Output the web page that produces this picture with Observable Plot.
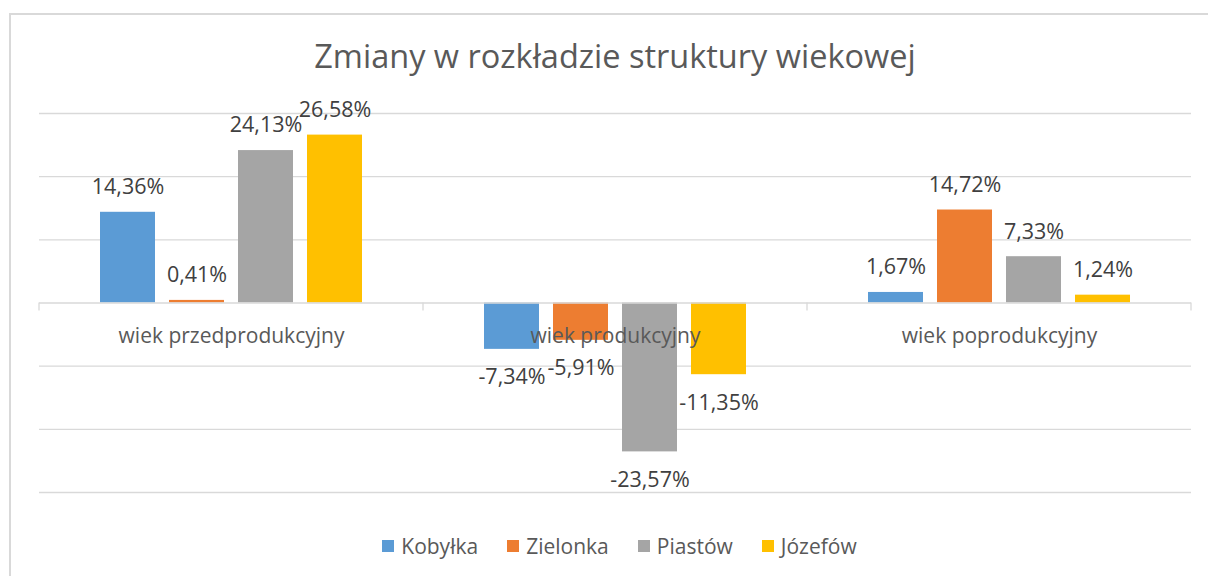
<!DOCTYPE html>
<html>
<head>
<meta charset="utf-8">
<script src="https://cdn.jsdelivr.net/npm/d3@7"></script>
<script src="https://cdn.jsdelivr.net/npm/@observablehq/plot@0.6"></script>
<style>
  html, body { margin: 0; padding: 0; background: #ffffff; }
  body { font-family: "Open Sans", sans-serif; }
  #wrap { position: relative; width: 1208px; height: 576px; overflow: hidden; background: #fff; }
  #frame { position: absolute; left: 9px; top: 13px; width: 1240px; height: 620px; border: 2px solid #d9d9d9; box-sizing: border-box; }
  #title { position: absolute; left: 0; width: 1230px; top: 34px; text-align: center; font-size: 32.5px; line-height: 44px; color: #595959; }
  #chart { position: absolute; left: 0; top: 90px; }
  #legend { position: absolute; left: 0; width: 1239px; top: 529px; display: flex; justify-content: center; }
  #legend [class$="-swatch"] { margin-right: 29px !important; color: #595959; }
  #legend [class$="-swatch"]:last-child { margin-right: 0 !important; }
  #legend [class$="-swatch"] > svg { margin-right: 7px !important; }
</style>
</head>
<body>
<div id="wrap">
  <div id="frame"></div>
  <div id="title">Zmiany w rozkładzie struktury wiekowej</div>
  <div id="chart"></div>
  <div id="legend"></div>
</div>
<script>
const categories = ["wiek przedprodukcyjny", "wiek produkcyjny", "wiek poprodukcyjny"];
const series = ["Kobyłka", "Zielonka", "Piastów", "Józefów"];
const kobylka  = [14.36, -7.34, 1.67];
const zielonka = [0.41, -5.91, 14.72];
const piastow  = [24.13, -23.57, 7.33];
const jozefow  = [26.58, -11.35, 1.24];
const colors = ["#5B9BD5", "#ED7D31", "#A5A5A5", "#FFC000"];
const yTicks = [-30, -20, -10, 0, 10, 20, 30];

const seriesValues = [kobylka, zielonka, piastow, jozefow];
const data = categories.flatMap((c, i) =>
  series.map((s, j) => ({category: c, series: s, value: seriesValues[j][i]}))
);
const fmt = v => v.toFixed(2).replace(".", ",") + "%";

const chart = Plot.plot({
  width: 1208,
  height: 440,
  marginLeft: 38,
  marginRight: 17,
  marginTop: 23,
  marginBottom: 38,
  style: {fontFamily: "Open Sans, sans-serif", background: "transparent", overflow: "visible"},
  fx: {domain: categories, padding: 0, axis: null},
  x: {domain: series, paddingInner: 0.21, paddingOuter: 0.85, axis: null},
  y: {domain: [-30, 30], axis: null},
  color: {domain: series, range: colors},
  marks: [
    Plot.ruleY(yTicks.filter(t => t !== 0), {stroke: "#d9d9d9", strokeWidth: 1.3}),
    Plot.barY(data, {fx: "category", x: "series", y: "value", fill: "series"}),
    Plot.ruleY([0], {stroke: "#d9d9d9", strokeWidth: 1.3}),
    Plot.text(categories, {fx: d => d, y: 0, text: d => d, dy: 33, fontSize: 21, fill: "#595959"}),
    Plot.text(data.filter(d => d.value >= 0), {fx: "category", x: "series", y: "value", text: d => fmt(d.value), dy: -25, fontSize: 21.5, fill: "#404040"}),
    Plot.text(data.filter(d => d.value < 0), {fx: "category", x: "series", y: "value", text: d => fmt(d.value), dy: 28, fontSize: 21.5, fill: "#404040"})
  ]
});
document.getElementById("chart").appendChild(chart);

// category axis tick marks at the category boundaries, using Plot's own scales
const fx = chart.scale("fx");
const y = chart.scale("y");
const y0 = y.apply(0);
const edges = categories.map(c => fx.apply(c)).concat([fx.apply(categories[categories.length - 1]) + fx.bandwidth]);
d3.select(chart).append("g")
  .selectAll("line").data(edges).join("line")
  .attr("x1", d => d).attr("x2", d => d)
  .attr("y1", y0).attr("y2", y0 + 8)
  .attr("stroke", "#d9d9d9").attr("stroke-width", 1.3);

const legend = chart.legend("color", {
  swatchSize: 12,
  style: {fontSize: "21px", fontFamily: "Open Sans, sans-serif", color: "#595959"}
});
document.getElementById("legend").appendChild(legend);
</script>
</body>
</html>
